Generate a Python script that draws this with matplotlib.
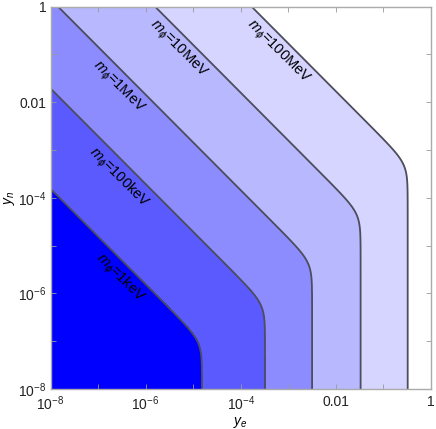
import matplotlib.pyplot as plt
import numpy as np

plt.rcParams['font.family'] = ['Liberation Sans', 'DejaVu Sans']
plt.rcParams['mathtext.fontset'] = 'custom'
plt.rcParams['mathtext.rm'] = 'Liberation Sans'
plt.rcParams['mathtext.it'] = 'Liberation Sans:italic'

# contour labels (mediator mass)
labels = ['1keV', '100keV', '1MeV', '10MeV', '100MeV']
# log10(y_e * y_n) along the diagonal part of each boundary
log_product = [-11.81, -9.71, -7.84, -5.80, -3.77]
# log10(y_e) of the vertical part of each boundary
log_ye_max = [-4.815, -3.49, -2.50, -1.48, -0.49]
# label centres (log10 y_e, log10 y_n)
label_x = [-6.54, -6.58, -6.58, -5.32, -3.22]
label_y = [-5.68, -3.58, -1.69, -0.89, -0.95]
fill_colors = ['#0000ff', '#5a5aff', '#8c8cff', '#b8b8ff', '#d5d5ff']

xticks = [1e-8, 1e-7, 1e-6, 1e-5, 1e-4, 1e-3, 1e-2, 1e-1, 1]
xticklabels = [r'$10^{-8}$', '', r'$10^{-6}$', '', r'$10^{-4}$', '', '0.01', '', '1']

fig = plt.figure(figsize=(4.36, 4.29), dpi=100)
ax = fig.add_axes([50.5 / 436, 1 - 389 / 429, 380.5 / 436, 382.3 / 429])

lx = np.linspace(-8, 0, 700)
X, Y = np.meshgrid(10 ** lx, 10 ** lx)

# largest mass first so smaller regions are painted on top
for i in range(len(labels) - 1, -1, -1):
    P = 10 ** log_product[i]
    a = 10 ** log_ye_max[i]
    G = (X * Y / P) ** 3 + (X / a) ** 3
    ax.contourf(X, Y, G, levels=[0, 1], colors=[fill_colors[i]])
    ax.contour(X, Y, G, levels=[1], colors='#4d4d5c', linewidths=1.3)
    ax.text(10 ** label_x[i], 10 ** label_y[i], r'$m_\phi$=' + labels[i],
            rotation=-45, ha='center', va='center', fontsize=10.5,
            rotation_mode='anchor')

ax.set_xscale('log')
ax.set_yscale('log')
ax.set_xlim(1e-8, 1)
ax.set_ylim(1e-8, 1)
ax.set_xticks(xticks)
ax.set_xticklabels(xticklabels)
ax.set_yticks(xticks)
ax.set_yticklabels(xticklabels)
ax.minorticks_off()
ax.tick_params(direction='in', length=3.5, width=0.6, color='#999999',
               labelsize=10, labelcolor='#222222', top=True, right=True, pad=3)
ax.tick_params(axis='x', pad=4)

for s in ax.spines.values():
    s.set_color('#aaaaaa')
    s.set_linewidth(1)

ax.set_xlabel(r'$y_e$', fontsize=10, labelpad=1)
ax.set_ylabel(r'$y_n$', fontsize=10, labelpad=1)

fig.savefig('out.png', dpi=100)
